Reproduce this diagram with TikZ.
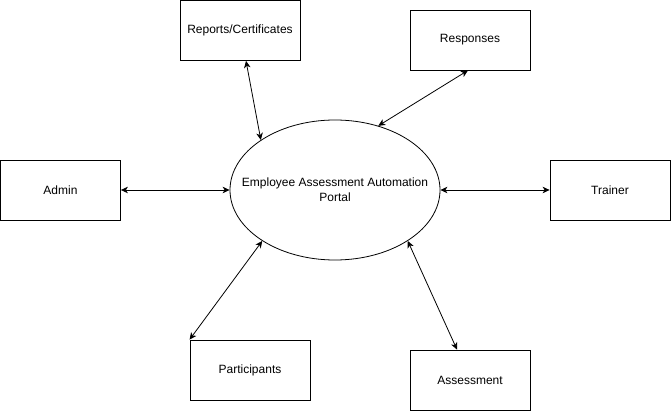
\documentclass[tikz,border=0pt]{standalone}
\usepackage{fontspec}
\setmainfont{Liberation Sans}
\usetikzlibrary{shapes.geometric,arrows.meta}

\begin{document}
\begin{tikzpicture}[x=1pt,y=-1pt,<->,>={Stealth[length=7pt,width=6.5pt,inset=2pt]},line width=0.8pt,
  entity/.style={draw,rectangle,minimum width=120pt,minimum height=60pt,inner sep=0pt,font=\fontsize{12}{14}\selectfont},
  process/.style={draw,ellipse,minimum width=210pt,minimum height=140pt,inner xsep=-20pt,inner ysep=0pt,align=center,font=\fontsize{12}{15}\selectfont}]
\useasboundingbox (0,0) rectangle (671,411);
  \node[process] (portal) at (335,190) {Employee Assessment Automation\\Portal};
  \node[entity] (reports) at (240,30.5) {Reports/Certificates};
  \node[entity] (responses) at (470,40) {Responses};
  \node[entity] (admin) at (60.5,190) {Admin};
  \node[entity] (trainer) at (610,190) {Trainer};
  \node[entity] (participants) at (250,370) {Participants};
  \node[entity] (assessment) at (470,380) {Assessment};
  \path ([xshift=6pt]reports.south) edge (portal.146);
  \path ([xshift=-2pt]responses.south) edge (portal.56);
  \path (admin) edge (portal);
  \path (trainer) edge (portal);
  \path (participants.north west) edge (portal.215);
  \path ([xshift=-13pt]assessment.north) edge (portal.325);
\end{tikzpicture}
\end{document}
